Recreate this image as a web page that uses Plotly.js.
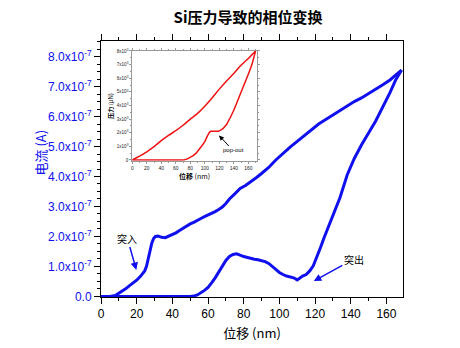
<!DOCTYPE html>
<html><head><meta charset="utf-8">
<script src="https://cdn.plot.ly/plotly-3.0.1.min.js"></script>
<style>html,body{margin:0;padding:0;background:#fff}#c{width:460px;height:348px}</style>
</head><body><div id="c"></div>
<script>
// Main chart: current (1e-7 A) vs displacement (nm)
var loadX = [0,5,8,10,12,14,16,18,20,22,23.5,24.5,25.5,26.5,27.5,28.5,29.5,30.5,32,34,36,38,40,42,44,46,48,50,52,54,56,58,60,62,64,66,68,70,72,75,78,81,84,87,90,94,98,102,106,110,114,118,122,126,130,134,138,142,146,150,154,158,162,165,168.5];
var loadY = [0,0,0.03,0.1,0.17,0.26,0.36,0.44,0.54,0.66,0.76,0.85,1.0,1.25,1.55,1.78,1.93,2.0,2.01,1.97,1.96,2.01,2.06,2.12,2.2,2.28,2.34,2.42,2.47,2.55,2.6,2.66,2.71,2.76,2.83,2.9,2.98,3.1,3.25,3.42,3.6,3.7,3.82,3.96,4.1,4.3,4.55,4.78,4.98,5.17,5.36,5.56,5.75,5.9,6.05,6.2,6.36,6.5,6.62,6.76,6.9,7.06,7.22,7.37,7.55];
var unloadX = [168.5,165,162,158,154,150,146,142,138,134,131,129,127,125,123,121,119,117,115,113,111,110,108,106,104,102,100,98,96,94,92,90,88,86,84,82,80,78,76,74,72,70,68,66,64,62,60,58,56,54,52,50,0];
var unloadY = [7.55,7.2,6.8,6.3,5.85,5.45,5.05,4.6,4.05,3.3,2.85,2.6,2.3,1.95,1.62,1.3,1.02,0.85,0.73,0.68,0.58,0.55,0.62,0.64,0.68,0.73,0.8,0.9,1.0,1.1,1.16,1.2,1.22,1.24,1.27,1.29,1.33,1.38,1.42,1.4,1.33,1.2,1.0,0.8,0.62,0.45,0.3,0.2,0.12,0.05,0.01,0,0];
var yTickVals = [0,1,2,3,4,5,6,7,8];
var yTickText = ["0.0","1.0x10<sup>-7</sup>","2.0x10<sup>-7</sup>","3.0x10<sup>-7</sup>","4.0x10<sup>-7</sup>","5.0x10<sup>-7</sup>","6.0x10<sup>-7</sup>","7.0x10<sup>-7</sup>","8.0x10<sup>-7</sup>"];
// Inset: load (x10^3 uN) vs displacement (nm)
var inLoadX = [0,10,20,30,40,50,60,70,80,90,100,110,120,130,140,150,160,170];
var inLoadY = [0,0.28,0.6,0.98,1.42,1.8,2.15,2.55,3.0,3.42,3.95,4.55,5.2,5.8,6.35,6.95,7.45,8.0];
var inUnloadX = [170,165,160,155,150,145,140,135,130,125,121,119,108,106,103,100,96,92,88,84,80,76,72,70,0];
var inUnloadY = [8.0,7.0,6.3,5.6,4.95,4.25,3.65,3.1,2.6,2.3,2.12,2.1,2.1,2.0,1.7,1.35,1.05,0.75,0.5,0.32,0.18,0.08,0.02,0,0];
var inYTickVals = [0,1,2,3,4,5,6,7,8];
var inYTickText = ["0","1x10<sup>3</sup>","2x10<sup>3</sup>","3x10<sup>3</sup>","4x10<sup>3</sup>","5x10<sup>3</sup>","6x10<sup>3</sup>","7x10<sup>3</sup>","8x10<sup>3</sup>"];

var CJK = "Liberation Sans, Arial, Noto Sans CJK SC, sans-serif";
var blue = "#1010ee";
var traces = [
  {x: loadX, y: loadY, type: "scatter", mode: "lines", line: {color: blue, width: 3}, hoverinfo: "skip"},
  {x: unloadX, y: unloadY, type: "scatter", mode: "lines", line: {color: blue, width: 3}, hoverinfo: "skip"},
  {x: inLoadX, y: inLoadY, xaxis: "x2", yaxis: "y2", type: "scatter", mode: "lines", line: {color: "#ee1111", width: 1.5, shape: "spline"}, hoverinfo: "skip"},
  {x: inUnloadX, y: inUnloadY, xaxis: "x2", yaxis: "y2", type: "scatter", mode: "lines", line: {color: "#ee1111", width: 1.5}, hoverinfo: "skip"}
];
var layout = {
  width: 460, height: 348,
  margin: {l: 101, r: 57, t: 41, b: 51},
  paper_bgcolor: "#fff", plot_bgcolor: "#fff",
  showlegend: false,
  font: {family: CJK, color: "#000", size: 12},
  title: {text: "<b>Si压力导致的相位变换</b>", x: 0.487, xref: "paper", xanchor: "center", y: 0.948, yref: "container", yanchor: "middle", font: {size: 15, family: "Noto Sans CJK SC, sans-serif", color: "#000"}},
  xaxis: {
    range: [0, 169.3], showgrid: false, zeroline: false,
    showline: true, linecolor: "#000", linewidth: 1, mirror: "ticks",
    ticks: "outside", ticklen: 6, tickwidth: 1, tickcolor: "#000",
    tick0: 0, dtick: 20,
    minor: {dtick: 10, ticks: "outside", ticklen: 3, tickcolor: "#000"},
    tickfont: {size: 12, color: "#000"},
    title: {text: "位移 (nm)", font: {size: 13, family: "Noto Sans CJK SC, sans-serif"}, standoff: 8}
  },
  yaxis: {
    range: [-0.02, 8.52], showgrid: false, zeroline: false,
    showline: true, linecolor: "#000", linewidth: 1, mirror: true,
    ticks: "outside", ticklen: 6, tickwidth: 1, tickcolor: "#000",
    tickvals: yTickVals, ticktext: yTickText,
    minor: {dtick: 0.25, tick0: 0, ticks: "outside", ticklen: 3, tickcolor: "#000"},
    tickfont: {size: 12, color: blue}
  },
  xaxis2: {
    domain: [0.1036, 0.5156], anchor: "y2",
    range: [0, 171.6], showgrid: false, zeroline: false,
    showline: true, linecolor: "#999", linewidth: 1, mirror: "ticks",
    ticks: "outside", ticklen: 2, tickcolor: "#999",
    tick0: 0, dtick: 20,
    minor: {dtick: 10, ticks: "outside", ticklen: 1, tickcolor: "#999"},
    tickfont: {size: 5, color: "#222"},
    title: {text: "<b>位移</b> (nm)", font: {size: 7, family: "Noto Sans CJK SC, sans-serif"}, standoff: 2}
  },
  yaxis2: {
    domain: [0.532, 0.961], anchor: "x2",
    range: [-0.06, 8.0], showgrid: false, zeroline: false,
    showline: true, linecolor: "#999", linewidth: 1, mirror: "ticks",
    ticks: "outside", ticklen: 2, tickcolor: "#999",
    tickvals: inYTickVals, ticktext: inYTickText,
    minor: {dtick: 0.5, ticks: "outside", ticklen: 1, tickcolor: "#999"},
    tickfont: {size: 4.5, color: "#222"},
    title: {text: "<b>压力</b> (μN)", font: {size: 6, family: "Noto Sans CJK SC, sans-serif"}, standoff: 2}
  },
  annotations: [
    {xref: "paper", yref: "paper", x: -0.2417, y: 0.5625, text: "电流 (A)", textangle: -90, showarrow: false, font: {size: 13, color: blue, family: "Noto Sans CJK SC, sans-serif"}},
    {xref: "x", yref: "y", x: 19.8, y: 0.88, ax: -9, ay: -32, text: "突入", showarrow: true, arrowhead: 2, arrowsize: 1, arrowwidth: 1.5, arrowcolor: blue, font: {size: 10, family: "Noto Sans CJK SC, sans-serif"}, standoff: 0},
    {xref: "x", yref: "y", x: 119.3, y: 0.51, ax: 40, ay: -22, text: "突出", showarrow: true, arrowhead: 2, arrowsize: 1, arrowwidth: 1.5, arrowcolor: blue, font: {size: 10, family: "Noto Sans CJK SC, sans-serif"}, standoff: 0},
    {xref: "x2", yref: "y2", x: 119.6, y: 1.8, ax: 14, ay: 15, text: "pop-out", showarrow: true, arrowhead: 2, arrowsize: 1, arrowwidth: 1, arrowcolor: "#000", font: {size: 6}, standoff: 0}
  ]
};
Plotly.newPlot("c", traces, layout, {staticPlot: true, displayModeBar: false});
</script></body></html>
